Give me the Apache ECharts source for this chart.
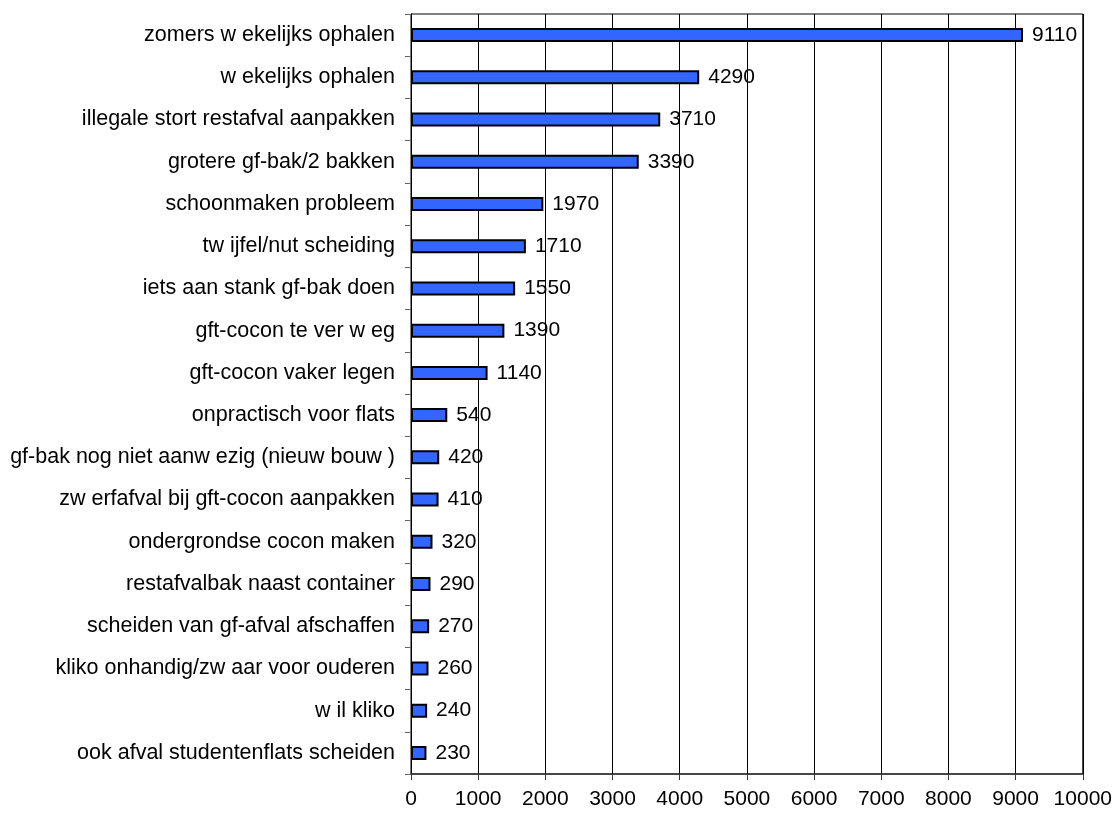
<!DOCTYPE html>
<html>
<head>
<meta charset="utf-8">
<script src="https://cdn.jsdelivr.net/npm/echarts@6/dist/echarts.min.js"></script>
<style>
  html, body { margin: 0; padding: 0; background: #fff; }
  #chart { width: 1115px; height: 813px; }
</style>
</head>
<body>
<div id="chart"></div>
<script>
// Wensen en klachten rond gft-inzameling, aantallen per onderwerp (van boven naar beneden)
const categories = [
  'zomers w ekelijks ophalen',
  'w ekelijks ophalen',
  'illegale stort restafval aanpakken',
  'grotere gf-bak/2 bakken',
  'schoonmaken probleem',
  'tw ijfel/nut scheiding',
  'iets aan stank gf-bak doen',
  'gft-cocon te ver w eg',
  'gft-cocon vaker legen',
  'onpractisch voor flats',
  'gf-bak nog niet aanw ezig (nieuw bouw )',
  'zw erfafval bij gft-cocon aanpakken',
  'ondergrondse cocon maken',
  'restafvalbak naast container',
  'scheiden van gf-afval afschaffen',
  'kliko onhandig/zw aar voor ouderen',
  'w il kliko',
  'ook afval studentenflats scheiden'
];
const values = [9110, 4290, 3710, 3390, 1970, 1710, 1550, 1390, 1140, 540, 420, 410, 320, 290, 270, 260, 240, 230];

const xMin = 0;
const xMax = 10000;
const xStep = 1000;

const fontFamily = '"Liberation Sans", Arial, sans-serif';
const fontSize = 21;

const chart = echarts.init(document.getElementById('chart'), null, { renderer: 'canvas' });
chart.setOption({
  animation: false,
  backgroundColor: '#ffffff',
  grid: {
    left: 411, right: 32, top: 14, bottom: 39,
    show: true, borderColor: '#000', borderWidth: 1, backgroundColor: 'transparent'
  },
  xAxis: {
    type: 'value',
    min: xMin, max: xMax, interval: xStep,
    axisLine: { show: true, lineStyle: { color: '#333', width: 1.5 } },
    axisTick: { show: true, length: 6, lineStyle: { color: '#333' } },
    axisLabel: {
      color: '#000', fontSize, fontFamily, margin: 15,
      formatter: v => String(v)
    },
    splitLine: { show: true, lineStyle: { color: '#000', width: 1 } }
  },
  yAxis: {
    type: 'category',
    data: categories,
    inverse: true,
    axisLine: { show: true, lineStyle: { color: '#000', width: 1 } },
    axisTick: { show: true, length: 6, lineStyle: { color: '#666' } },
    axisLabel: { color: '#000', fontSize: 21.5, fontFamily, margin: 16 },
    splitLine: { show: false }
  },
  series: [{
    type: 'bar',
    data: values,
    barWidth: 14,
    itemStyle: { color: '#3366ff', borderColor: '#000', borderWidth: 2 },
    label: {
      show: true, position: 'right', distance: 9,
      color: '#000', fontSize, fontFamily,
      formatter: p => String(p.value)
    }
  }]
});
</script>
</body>
</html>
